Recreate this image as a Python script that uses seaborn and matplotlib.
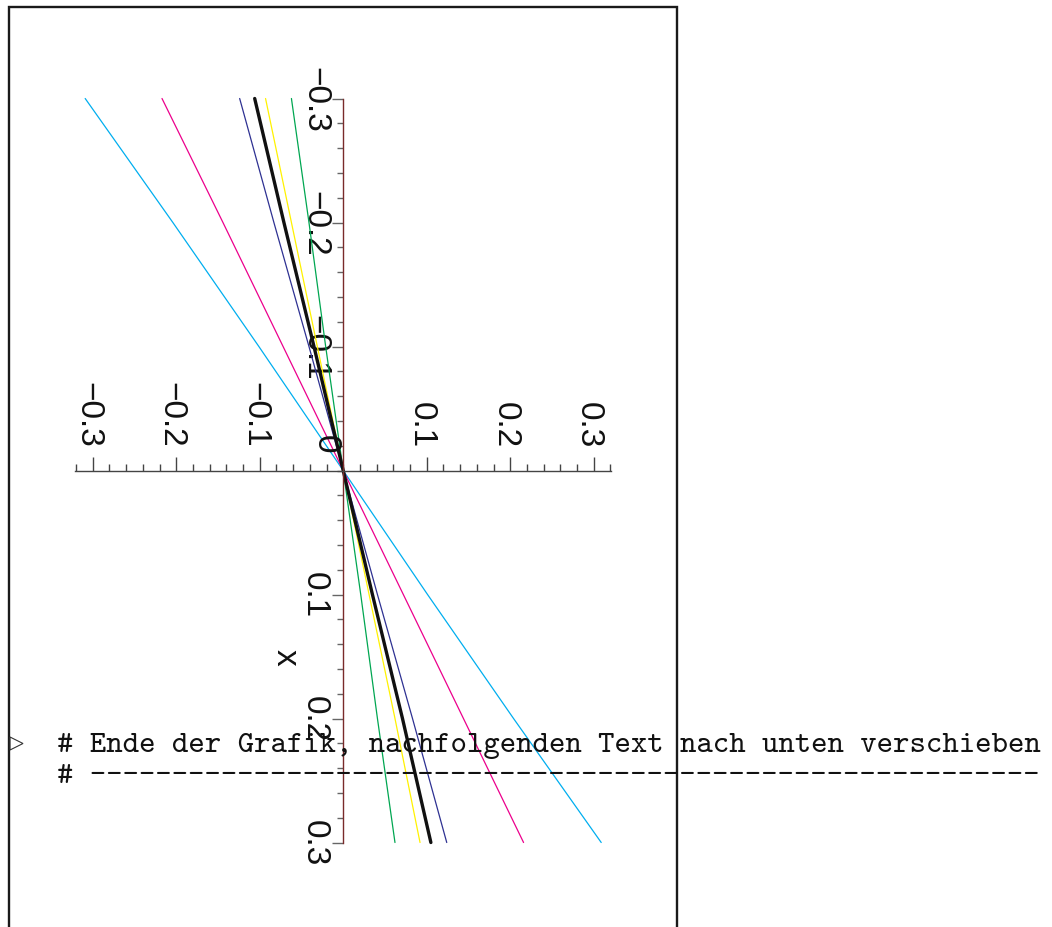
import numpy as np
import matplotlib
matplotlib.use("Agg")
import matplotlib.pyplot as plt
import seaborn as sns
from matplotlib.ticker import FixedLocator, FixedFormatter
from matplotlib.patches import Rectangle, Polygon
from matplotlib.transforms import ScaledTranslation

# Sample positions along the plotted variable x (drawn vertically, downwards)
x_values = [-0.3, -0.2, -0.1, 0.0, 0.1, 0.2, 0.3]

# Function values of each curve (drawn horizontally)
y_cyan = [-0.309, -0.204, -0.101, 0.0, 0.101, 0.204, 0.309]
y_magenta = [-0.217, -0.144, -0.072, 0.0, 0.072, 0.144, 0.216]
y_navy = [-0.124, -0.083, -0.041, 0.0, 0.041, 0.083, 0.124]
y_green = [-0.062, -0.041, -0.021, 0.0, 0.021, 0.041, 0.062]
y_yellow = [-0.093, -0.062, -0.031, 0.0, 0.031, 0.062, 0.092]
y_black = [-0.106, -0.071, -0.035, 0.0, 0.035, 0.071, 0.105]

# Axis ticks and labels
tick_values = [-0.3, -0.2, -0.1, 0.1, 0.2, 0.3]
tick_labels = ["\u22120.3", "\u22120.2", "\u22120.1", "0.1", "0.2", "0.3"]
minor_h = [round(-0.32 + 0.02 * i, 2) for i in range(33)]
minor_v = [round(-0.30 + 0.02 * i, 2) for i in range(31)]
axis_label = "x"
origin_label = "0"

# Worksheet comment lines printed across the plot
note_line1 = "# Ende der Grafik, nachfolgenden Text nach unten verschieben"
note_line2 = "# " + "-" * 58

sns.set_theme(style="white")
plt.rcParams["font.family"] = ["Liberation Sans", "DejaVu Sans"]
plt.rcParams["axes.unicode_minus"] = True

W, H = 1052, 928
fig = plt.figure(figsize=(W / 100, H / 100), dpi=100)
fig.patch.set_facecolor("white")
ax = fig.add_axes([0, 0, 1, 1])
ax.set_facecolor("none")

# pixel placement of the origin and scale of both directions
OX, OY = 343.2, 471.5
SX, SY = 835.0, 1240.0
ax.set_xlim(-OX / SX, (W - OX) / SX)
ax.set_ylim((H - OY) / SY, -OY / SY)

series = [
    (y_cyan, "#00AEEF", 0.9),
    (y_magenta, "#EC008C", 0.9),
    (y_navy, "#2E3192", 0.9),
    (y_green, "#00A651", 0.9),
    (y_yellow, "#FFF200", 0.9),
    (y_black, "#111111", 2.4),
]
for vals, col, lw in series:
    sns.lineplot(x=vals, y=x_values, sort=False, estimator=None,
                 color=col, linewidth=lw, ax=ax)

# axes crossing at the origin
ax.spines["right"].set_visible(False)
ax.spines["bottom"].set_visible(False)
ax.spines["left"].set_position(("data", 0))
ax.spines["left"].set_bounds(-0.3, 0.3)
ax.spines["left"].set_color("#7A2A2A")
ax.spines["left"].set_linewidth(1.0)
ax.spines["top"].set_position(("data", 0))
ax.spines["top"].set_bounds(-0.321, 0.321)
ax.spines["top"].set_color("#444444")
ax.spines["top"].set_linewidth(1.0)

ax.xaxis.set_ticks_position("top")
ax.yaxis.set_ticks_position("left")
ax.xaxis.set_major_locator(FixedLocator(tick_values))
ax.xaxis.set_major_formatter(FixedFormatter(tick_labels))
ax.xaxis.set_minor_locator(FixedLocator(minor_h))
ax.yaxis.set_major_locator(FixedLocator(tick_values))
ax.yaxis.set_major_formatter(FixedFormatter(tick_labels))
ax.yaxis.set_minor_locator(FixedLocator(minor_v))

ax.tick_params(axis="x", which="major", direction="out", length=10, width=1,
               color="#444444", labelsize=24, pad=7, labelrotation=-90,
               labelcolor="#111111")
ax.tick_params(axis="x", which="minor", direction="out", length=5, width=1,
               color="#444444")
ax.tick_params(axis="y", which="major", direction="out", length=8, width=1,
               color="#666666", labelsize=24, pad=1.5, labelrotation=-90,
               labelcolor="#111111")
ax.tick_params(axis="y", which="minor", direction="out", length=4, width=1,
               color="#666666")
shift_left = ScaledTranslation(-5 / 100, 0, fig.dpi_scale_trans)
for lab in ax.get_xticklabels():
    lab.set_ha("center")
    lab.set_va("bottom")
    lab.set_transform(lab.get_transform() + shift_left)
plt.setp(ax.get_yticklabels(), ha="right", va="center")

ax.set_ylabel(axis_label, rotation=-90, ha="center", va="center",
              fontsize=24, color="#111111")
ax.yaxis.set_label_coords(285 / W, 1 - 657 / H)
ax.set_xlabel("")

ax.text(-0.0218, -0.0222, origin_label, rotation=-90, ha="center",
        va="center", fontsize=24, color="#111111")

# worksheet frame
fig.add_artist(Rectangle((8.5 / W, -0.05), (677.3 - 8.5) / W,
                         1.05 - 8 / H, transform=fig.transFigure,
                         fill=False, edgecolor="#1a1a1a", linewidth=1.7))

# input prompt and comment lines
fig.add_artist(Polygon([(10 / W, 1 - 738 / H), (10 / W, 1 - 751 / H),
                        (23 / W, 1 - 744.5 / H)], closed=True,
                       transform=fig.transFigure, fill=False,
                       edgecolor="#333333", linewidth=0.8))
fig.text(57 / W, 1 - 752 / H, note_line1, family=["cmtt10", "DejaVu Sans Mono"],
         fontsize=22.5, ha="left", va="baseline", color="#111111")
fig.text(57 / W, 1 - 783 / H, note_line2, family=["cmtt10", "DejaVu Sans Mono"],
         fontsize=22.5, ha="left", va="baseline", color="#111111")

fig.savefig("out.png", dpi=100, facecolor="white")
